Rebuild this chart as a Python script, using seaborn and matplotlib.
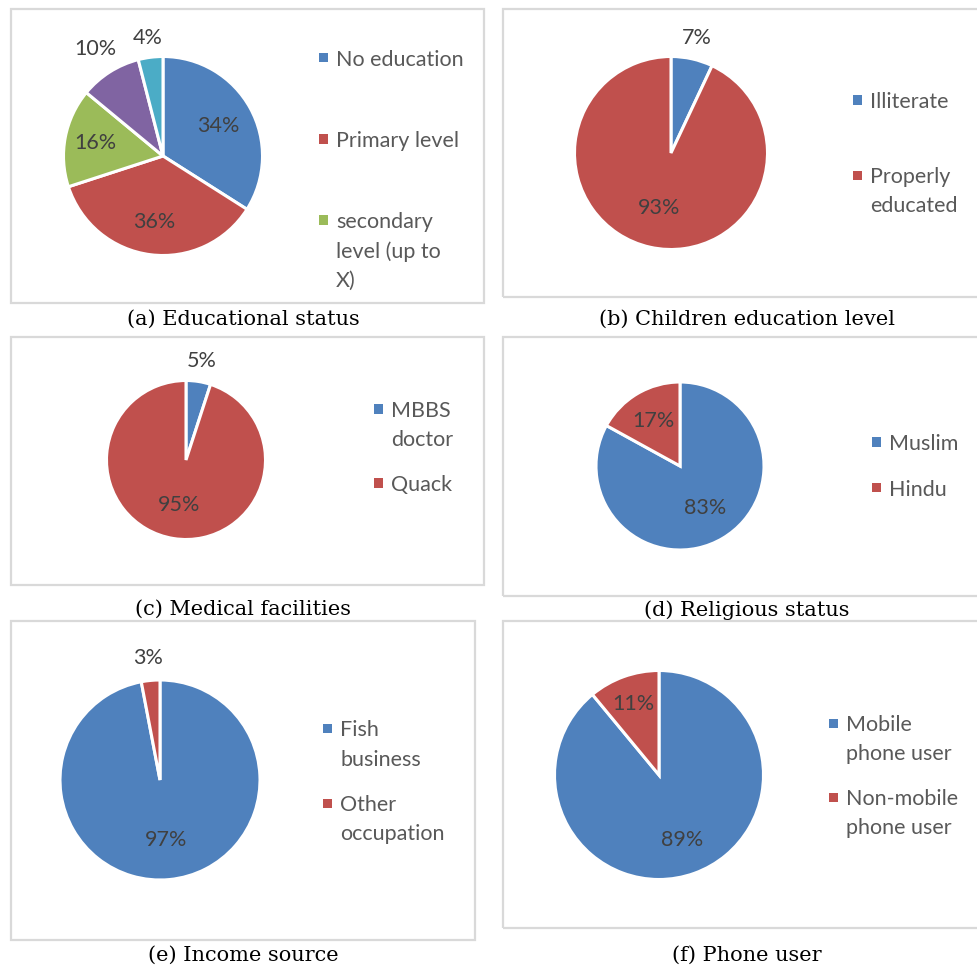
import matplotlib
matplotlib.use("Agg")
import matplotlib.pyplot as plt
from matplotlib.patches import Rectangle
import seaborn as sns

# ---------------- data ----------------
edu_labels = ["No education", "Primary level", "secondary\nlevel (up to\nX)",
              "Higher secondary", "Higher education"]
edu_values = [34, 36, 16, 10, 4]

child_labels = ["Illiterate", "Properly\neducated"]
child_values = [7, 93]

med_labels = ["MBBS\ndoctor", "Quack"]
med_values = [5, 95]

rel_labels = ["Muslim", "Hindu"]
rel_values = [83, 17]

inc_labels = ["Fish\nbusiness", "Other\noccupation"]
inc_values = [97, 3]

phone_labels = ["Mobile\nphone user", "Non-mobile\nphone user"]
phone_values = [89, 11]

captions = ["(a) Educational status", "(b) Children education level",
            "(c) Medical facilities", "(d) Religious status",
            "(e) Income source", "(f) Phone user"]

# ---------------- style ----------------
sns.set_theme(style="white")
palette = sns.color_palette(["#4F81BD", "#C0504D", "#9BBB59", "#8064A2", "#4BACC6"])
plt.rcParams["font.family"] = ["Lato", "DejaVu Sans"]

W, H = 977, 968
fig = plt.figure(figsize=(W / 100, H / 100), dpi=100)
fig.patch.set_facecolor("white")

FS = 15.5
LABEL_C = "#404040"
LEG_C = "#595959"

# layout (pixels): pie centre, radius, label distances, box, legend, caption
panels = [
    dict(values=edu_values, labels=edu_labels, n_leg=3, center=(163, 156), r=98,
         dists=[0.63, 0.67, 0.69, 1.27, 1.2], box=(11, 9, 484, 303),
         leg=(319, 58, 81, 29.5), cap=(243, 319)),
    dict(values=child_values, labels=child_labels, n_leg=2, center=(671, 153), r=95,
         dists=[1.22, 0.58], box=(503, 9, 990, 297),
         leg=(853, 100, 75, 28.5), cap=(747, 319)),
    dict(values=med_values, labels=med_labels, n_leg=2, center=(186, 460), r=78,
         dists=[1.26, 0.57], box=(11, 337, 484, 585),
         leg=(374, 409, 74, 28.5), cap=(243, 609)),
    dict(values=rel_values, labels=rel_labels, n_leg=2, center=(680, 466), r=82.5,
         dists=[0.58, 0.62], box=(503, 337, 990, 596),
         leg=(872, 442, 46, 28.5), cap=(747, 610)),
    dict(values=inc_values, labels=inc_labels, n_leg=2, center=(160, 780), r=98.5,
         dists=[0.6, 1.23], box=(11, 621, 475, 940),
         leg=(323, 728, 75, 29.5), cap=(243, 955)),
    dict(values=phone_values, labels=phone_labels, n_leg=2, center=(659, 775), r=103,
         dists=[0.66, 0.72], box=(503, 621, 990, 928),
         leg=(829, 723, 74, 29.5), cap=(747, 955)),
]


def fx(x):
    return x / W


def fy(y):
    return 1 - y / H


for spec, caption in zip(panels, captions):
    # frame box
    x0, y0, x1, y1 = spec["box"]
    fig.add_artist(Rectangle((fx(x0), fy(y1)), (x1 - x0) / W, (y1 - y0) / H,
                             transform=fig.transFigure, fill=False,
                             edgecolor="#D9D9D9", linewidth=1.6))

    # pie
    cx, cy = spec["center"]
    r = spec["r"] + 1.5
    L = 1.6
    ax = fig.add_axes([fx(cx - L * r), fy(cy + L * r), 2 * L * r / W, 2 * L * r / H])
    vals = spec["values"]
    wedges, _, autotexts = ax.pie(
        vals, colors=palette[:len(vals)], startangle=90, counterclock=False,
        autopct=lambda p: f"{p:.0f}%", pctdistance=1.0,
        wedgeprops=dict(edgecolor="white", linewidth=2.2),
        textprops=dict(color=LABEL_C, fontsize=FS))
    for t, d in zip(autotexts, spec["dists"]):
        x, y = t.get_position()
        t.set_position((x * d, y * d))
    ax.set_xlim(-L, L)
    ax.set_ylim(-L, L)
    ax.set_aspect("equal")
    ax.axis("off")

    # legend (marker aligned with first line of each entry, as in Excel)
    mx, my, pitch, lp = spec["leg"]
    for i in range(spec["n_leg"]):
        y = my + i * pitch
        fig.add_artist(Rectangle((fx(mx), fy(y + 4.5)), 9 / W, 9 / H,
                                 transform=fig.transFigure,
                                 facecolor=palette[i], edgecolor="none"))
        for j, line in enumerate(spec["labels"][i].split("\n")):
            fig.text(fx(mx + 17), fy(y + j * lp + 8), line, ha="left", va="baseline",
                     fontsize=FS, color=LEG_C)

    # caption
    cpx, cpy = spec["cap"]
    fig.text(fx(cpx), fy(cpy), caption, ha="center", va="center",
             fontsize=15, color="black", family=["DejaVu Serif"])

fig.savefig("out.png", dpi=100)
